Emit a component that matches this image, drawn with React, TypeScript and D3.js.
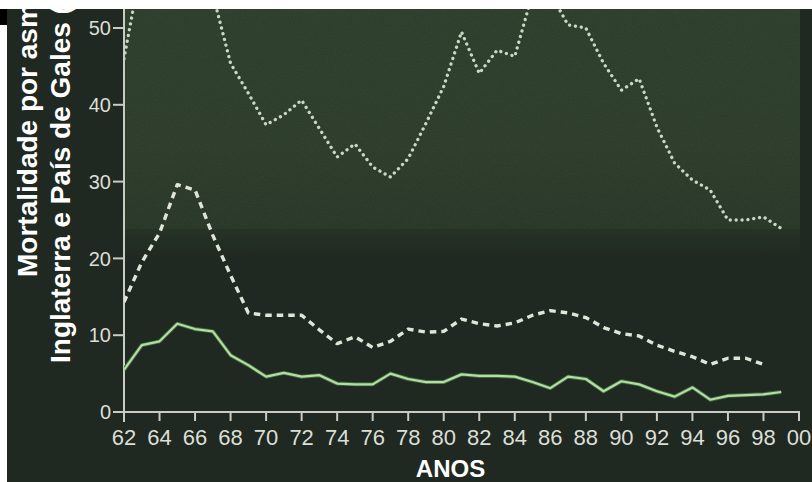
import React from "react";
import * as d3 from "d3";

const years = d3.range(62, 100); // 62..99
const solidValues = [5.5, 8.7, 9.2, 11.5, 10.8, 10.5, 7.4, 6.1, 4.6, 5.1, 4.6, 4.8, 3.7, 3.6, 3.6, 5.0, 4.3, 3.9, 3.9, 4.9, 4.7, 4.7, 4.6, 3.9, 3.1, 4.6, 4.3, 2.7, 4.0, 3.6, 2.7, 2.0, 3.2, 1.6, 2.1, 2.2, 2.3, 2.6];
const dashedYears = d3.range(62, 99); // 62..98
const dashedValues = [14.3, 19.5, 23.3, 29.6, 28.9, 23.0, 17.8, 12.9, 12.6, 12.6, 12.6, 10.7, 8.9, 9.8, 8.4, 9.2, 10.8, 10.4, 10.5, 12.1, 11.5, 11.2, 11.6, 12.6, 13.2, 12.9, 12.3, 11.0, 10.2, 9.9, 8.7, 7.9, 7.2, 6.2, 7.0, 7.0, 6.2];
const dottedValues = [46.0, 58.5, 60.0, 61.0, 59.0, 54.4, 45.4, 41.5, 37.4, 38.7, 40.6, 36.9, 33.2, 34.9, 31.9, 30.6, 33.0, 37.6, 42.4, 49.5, 44.1, 47.1, 46.3, 54.5, 54.5, 50.4, 50.0, 45.4, 41.9, 43.4, 37.1, 32.4, 30.2, 28.9, 25.0, 25.0, 25.4, 23.9];
const xTickYears = d3.range(62, 101, 2);
const yTicks = [0, 10, 20, 30, 40, 50];
const yLabelLine1 = "Mortalidade por asma";
const yLabelLine2 = "Inglaterra e País de Gales (por milhão)";
const xLabel = "ANOS";

const W = 812;
const H = 482;
const x0 = 124;
const x1 = 799;
const yTop = 9;

export default function App() {
  const x = d3.scaleLinear().domain([62, 100]).range([x0, x1]);
  const y = d3.scaleLinear().domain([0, 50]).range([412, 28]);
  const line = d3
    .line<[number, number]>()
    .x((d) => x(d[0]))
    .y((d) => y(d[1]));
  const solidPath = line(years.map((yr, i) => [yr, solidValues[i]]))!;
  const dashedPath = line(dashedYears.map((yr, i) => [yr, dashedValues[i]]))!;
  const dottedPath = line(years.map((yr, i) => [yr, dottedValues[i]]))!;
  const tickFmt = (v: number) => (v % 100 === 0 ? "00" : String(v));
  const font = "'Liberation Sans', Arial, Helvetica, sans-serif";
  const axisColor = "#c9ccc2";
  const textColor = "#dcdfd6";

  return (
    <svg
      width={W}
      height={H}
      style={{ position: "absolute", left: 0, top: 0, display: "block" }}
      fontFamily={font}
    >
      <defs>
        <linearGradient id="bgGrad" x1="0" y1="0" x2="0" y2="1">
          <stop offset="0" stopColor="#2b3b29" />
          <stop offset="0.55" stopColor="#2a3928" />
          <stop offset="0.86" stopColor="#263425" />
          <stop offset="1" stopColor="#1f2821" />
        </linearGradient>
        <filter id="grain" x="0" y="0" width="100%" height="100%">
          <feTurbulence type="fractalNoise" baseFrequency="0.9" numOctaves="2" seed="3" result="n" />
          <feColorMatrix
            in="n"
            type="matrix"
            values="0 0 0 0 0.55  0 0 0 0 0.7  0 0 0 0 0.55  0 0 0 0.14 0"
          />
        </filter>
        <clipPath id="plotClip">
          <rect x={x0} y={yTop} width={W - x0} height={H - yTop} />
        </clipPath>
        <clipPath id="labelClip">
          <rect x={0} y={yTop} width={W} height={H - yTop} />
        </clipPath>
      </defs>

      {/* page frame */}
      <rect x={0} y={0} width={W} height={H} fill="#ffffff" />
      <rect x={7} y={yTop} width={W - 7} height={H - yTop} fill="#1f2821" />
      <rect x={0} y={yTop} width={7} height={16} fill="#000000" />

      {/* green textured upper plot band */}
      <rect x={x0} y={yTop} width={800 - x0} height={252} fill="url(#bgGrad)" />
      <rect x={x0} y={yTop} width={800 - x0} height={220} filter="url(#grain)" opacity={0.5} />

      {/* axes */}
      <line x1={x0} x2={x0} y1={yTop} y2={422} stroke={axisColor} strokeWidth={2} />
      <line x1={x0} x2={800} y1={412} y2={412} stroke={axisColor} strokeWidth={2} />
      {xTickYears.map((t) => (
        <g key={"xt" + t}>
          <line x1={x(t)} x2={x(t)} y1={412} y2={421} stroke={axisColor} strokeWidth={2} />
          <text x={x(t)} y={445} textAnchor="middle" fontSize={22} fill={textColor}>
            {tickFmt(t)}
          </text>
        </g>
      ))}
      {yTicks.map((t) => (
        <g key={"yt" + t}>
          <line x1={113} x2={x0} y1={y(t)} y2={y(t)} stroke={axisColor} strokeWidth={2} />
          <text x={111} y={y(t)} dy="0.36em" textAnchor="end" fontSize={20} fill={textColor}>
            {t}
          </text>
        </g>
      ))}

      {/* series */}
      <g clipPath="url(#plotClip)" fill="none" strokeLinejoin="round">
        <path d={dottedPath} stroke="#c9d8c2" strokeWidth={3.3} strokeDasharray="0.1 5.8" strokeLinecap="round" />
        <path d={dashedPath} stroke="#dfe6d8" strokeWidth={3.4} strokeDasharray="6.5 5" />
        <path d={solidPath} stroke="#3f6a3a" strokeWidth={4} />
        <path d={solidPath} stroke="#b4dca6" strokeWidth={2.2} />
      </g>

      {/* axis titles */}
      <g clipPath="url(#labelClip)" fill="#ffffff" fontWeight="bold" fontSize={28}>
        <text transform="translate(37,277) rotate(-90)">{yLabelLine1}</text>
        <text transform="translate(70,363) rotate(-90)">{yLabelLine2}</text>
      </g>
      <text x={450.5} y={477} textAnchor="middle" fontSize={24} fontWeight="bold" fill="#ffffff">
        {xLabel}
      </text>
    </svg>
  );
}
